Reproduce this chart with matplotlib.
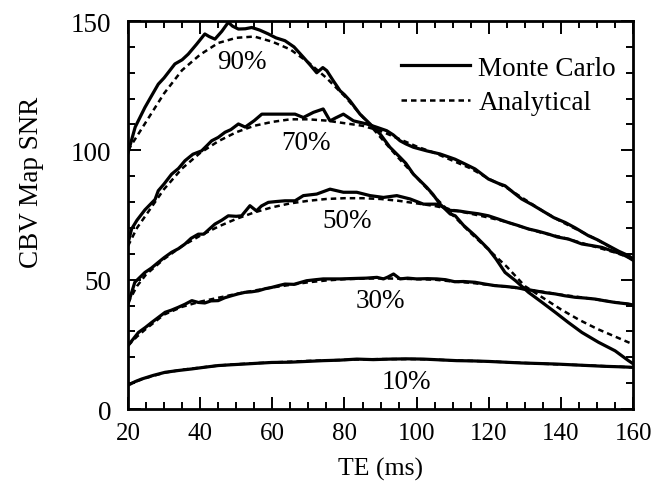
import matplotlib
matplotlib.use('Agg')
import matplotlib.pyplot as plt

plt.rcParams['font.family'] = ['Liberation Serif', 'DejaVu Serif']

# Monte Carlo (noisy) curves
te_mc90 = [20, 21, 22, 24.7, 26.5, 28.4, 30, 33, 35, 36.7, 39, 41.3, 42.5, 44.1, 46, 47.8, 49, 50.6,
           52.5, 54.3, 56.5, 58.9, 61, 63.5, 66, 68.6, 70.5, 72.3, 74, 75.1, 76.9, 78.8, 80, 81.5,
           84.3, 87.1, 89.9, 92.6, 95.4, 97, 99.1, 102.8, 104.5, 106.5, 109.3, 110.7, 113, 116.2,
           119.9, 122, 124.5, 127.5, 131, 134.5, 138.4, 142, 145.8, 150.4, 155, 158.7, 160]
mc90 = [99, 104, 109, 116.6, 121, 125.6, 128, 133.4, 135, 137.2, 141, 145, 144, 143, 146, 149.5, 148, 146.9,
        147, 147.5, 146.5, 145, 143.5, 142.4, 140, 136, 133, 130, 132, 130.8, 126.9, 123, 121.5, 119.2,
        114, 110.2, 106.3, 101.2, 97.3, 95, 90.8, 85.7, 83, 79.2, 75.4, 74.7, 71, 67,
        61.8, 58, 52.8, 49.5, 45.1, 41.5, 37.4, 33.5, 29.6, 25.8, 22.5, 18.7, 17.5]

te_mc70 = [20, 21, 22.5, 24.7, 27.5, 28.4, 30, 32.1, 34, 35.8, 38, 40.4, 42, 43.2, 45, 46.9, 48.5, 50.6,
           52.5, 55, 57.1, 60, 63, 66.3, 68.6, 71.4, 74.1, 76, 77.5, 79.7, 82.5, 86.2, 89, 91.7, 93.5,
           95.4, 97, 99.1, 102.8, 106.5, 110.6, 113, 116.2, 119.9, 122.7, 124.5, 127, 129.1, 132,
           135.6, 138, 141.2, 144, 147.6, 150, 153.2, 156, 158.7, 160]
mc70 = [64, 69.6, 73, 77, 81, 84.4, 87, 90.8, 93, 96, 98.5, 99.8, 102, 103.7, 105, 107, 108, 110.2,
        109, 111.5, 114, 114, 114, 114, 112.7, 114.7, 116, 111.4, 112.5, 114, 111.4, 110.2, 108.9, 107.6, 106,
        103.7, 102.5, 101.2, 99.8, 98.6, 96.6, 95, 92.8, 88.9, 87.2, 86.3, 83.5, 81.2, 79,
        76, 74, 72.1, 70, 67, 65.5, 63.1, 61, 59.3, 58]

te_mc50 = [20, 21.9, 24.7, 26.5, 28.4, 30, 32.1, 34, 35.8, 37.5, 39.5, 41, 42.5, 44.1, 46, 47.8, 50, 51.5,
           53.8, 55.6, 57, 58.9, 61, 63.5, 66.3, 68.6, 72.3, 76, 79.7, 83.4, 87.1, 90.8, 94.5, 98.2,
           101.9, 105.6, 109.3, 112, 114.3, 117, 119.9, 122.5, 125.4, 128, 131, 133.5, 136.6, 139,
           142.1, 145.8, 148.5, 151.3, 154, 156.9, 158.7, 160]
mc50 = [40.5, 49, 52.8, 54.5, 56.7, 58.5, 60.6, 62, 63.8, 66, 67.6, 67.6, 69.5, 71.5, 73, 74.7, 74.5, 74.7,
        78.6, 76.6, 78.5, 79.9, 80.2, 80.5, 80.5, 82.5, 83.1, 85, 83.8, 83.8, 82.5, 81.8, 82.5, 81.2,
        79.2, 79.2, 76.8, 76.5, 76, 75.5, 74.7, 73.5, 72.1, 71, 69.6, 68.8, 67.6, 66.5,
        65.7, 63.8, 63.2, 62.5, 61.2, 59.9, 58.6, 57.5]

te_mc30 = [20, 22.9, 24.8, 26.6, 28.5, 30.3, 32, 33.9, 35.8, 37.7, 39.5, 41.3, 43, 45, 46.8, 48.7, 50.5,
           52.4, 54.2, 56.1, 58, 59.8, 61.7, 63.5, 66, 69.5, 72, 74.1, 78.8, 83.4, 86, 89, 90.8, 92,
           93.6, 95.4, 97.5, 100, 103, 105.6, 108, 110.6, 113, 116.2, 119, 121.7, 124.5, 127.3, 130,
           132.8, 135.6, 138.4, 141, 143.9, 146.7, 149.5, 152.3, 155, 158.7, 160]
mc30 = [24.5, 29.6, 31.5, 33.5, 35.5, 37.4, 38.2, 39.3, 40.5, 41.9, 41.2, 41, 41.8, 41.9, 43, 43.8, 44.5,
        45.1, 45.3, 45.7, 46.5, 47, 47.7, 48.3, 48.2, 49.6, 50, 50.3, 50.3, 50.5, 50.6, 50.9, 50.3, 51,
        52.2, 50.3, 50.6, 50.3, 50.4, 50.3, 50, 49.2, 49.3, 49, 48.3, 47.7, 47.4, 47, 46.3,
        45.7, 45, 44.5, 43.8, 43.2, 42.9, 42.5, 41.8, 41.2, 40.6, 40.2]

te_mc10 = [20, 22, 23.8, 27, 30.3, 34, 37.7, 41.5, 45, 48.5, 52.4, 56, 59.8, 64.9, 69.5, 74.1, 78.8,
           83.4, 88, 92.6, 97.3, 101.9, 106.5, 111.1, 115.5, 119.9, 124.5, 129.1, 133.8, 138.4, 143,
           147.6, 152.3, 156.9, 160]
mc10 = [9.2, 10.6, 11.6, 13, 14.2, 14.9, 15.5, 16.2, 16.8, 17.1, 17.4, 17.7, 18, 18.1, 18.4, 18.7, 18.9,
        19.3, 19.1, 19.3, 19.4, 19.3, 19, 18.7, 18.6, 18.4, 18.1, 17.8, 17.6, 17.4, 17.1,
        16.8, 16.5, 16.3, 16.1]

# Analytical (smooth) curves
te_an = [20, 22.5, 25, 30, 35, 40, 45, 50, 55, 60, 65, 70, 75, 80, 85, 90, 95, 100, 105, 110, 115,
         120, 125, 130, 135, 140, 145, 150, 155, 160]
an90 = [100, 105.5, 111, 122, 131, 137, 141.5, 143.5, 144, 142, 139, 134, 128, 121, 113, 105, 97, 89.5,
        82, 75, 68, 61.5, 55, 47.5, 43, 38.5, 34.5, 31, 28, 25]
an70 = [63, 70, 75, 85, 93, 99, 103.5, 107, 109.5, 111, 112, 112, 111.5, 110.5, 109.5, 107.5, 104.5,
        101.5, 99, 96, 93, 89, 85.5, 81, 76.5, 72.5, 69, 65.5, 61.5, 58]
an50 = [41, 47.5, 52, 58, 63, 67, 70.5, 73.5, 76, 78, 79.5, 80.5, 81.2, 81.5, 81.5, 81.2, 80.5, 79.5,
        78.5, 77, 75.5, 74, 72.3, 70, 68, 66.5, 64.5, 62.5, 60.5, 58]
an30 = [24.5, 28, 31, 36.5, 39.5, 41.5, 43, 44.5, 45.8, 47, 48, 49, 49.7, 50.2, 50.4, 50.5, 50.4, 50.2,
        50, 49.3, 48.8, 48, 47.3, 46.3, 45.3, 44.2, 43.3, 42.3, 41.3, 40.3]
an10 = [9.5, 10.8, 12, 14, 15.2, 16, 16.8, 17.3, 17.7, 18, 18.3, 18.6, 18.8, 19, 19.2, 19.3, 19.3, 19.3,
        19.1, 18.8, 18.6, 18.4, 18.1, 17.8, 17.5, 17.2, 17, 16.7, 16.4, 16.1]

labels = ['90%', '70%', '50%', '30%', '10%']
label_x = [51.6, 69.3, 80.7, 89.9, 97.2]
label_y = [134.5, 103.2, 72.9, 42.1, 10.8]

fig = plt.figure(figsize=(6.7, 4.85), dpi=100)
ax = fig.add_axes([0.191, 0.1546, 0.754, 0.8])

mc = [(te_mc90, mc90), (te_mc70, mc70), (te_mc50, mc50), (te_mc30, mc30), (te_mc10, mc10)]
an = [an90, an70, an50, an30, an10]
for i in range(5):
    ax.plot(mc[i][0], mc[i][1], color='black', lw=2.3,
            label='Monte Carlo' if i == 0 else None)
    ax.plot(te_an, an[i], color='black', lw=1.8, dashes=(2.2, 1.6),
            label='Analytical' if i == 0 else None)

for t, lx, ly in zip(labels, label_x, label_y):
    ax.text(lx, ly, t, fontsize=19.5, ha='center', va='center')

ax.set_xlim(20, 160)
ax.set_ylim(0, 150)
ax.set_xticks([20, 40, 60, 80, 100, 120, 140, 160])
ax.set_yticks([0, 50, 100, 150])
ax.set_xticks(range(25, 160, 5), minor=True)
ax.set_yticks(range(10, 150, 10), minor=True)
ax.tick_params(which='both', direction='in', top=True, right=True, width=1.4)
ax.tick_params(which='major', length=9)
ax.tick_params(which='minor', length=5)
ax.tick_params(axis='x', pad=9.5, labelsize=18)
ax.tick_params(axis='y', pad=12, labelsize=19.5)
for s in ax.spines.values():
    s.set_linewidth(2)

ax.set_xlabel('TE (ms)', fontsize=18.5, labelpad=9)
ax.set_ylabel('CBV Map SNR', fontsize=19.5)
ax.yaxis.set_label_coords(-0.166, 0.588)

ax.legend(loc='upper right', bbox_to_anchor=(0.966, 0.91), frameon=False, fontsize=19.5,
          handlelength=2.55, handletextpad=0.3, labelspacing=0.35, borderpad=0,
          borderaxespad=0)

fig.savefig('out.png', dpi=100)
